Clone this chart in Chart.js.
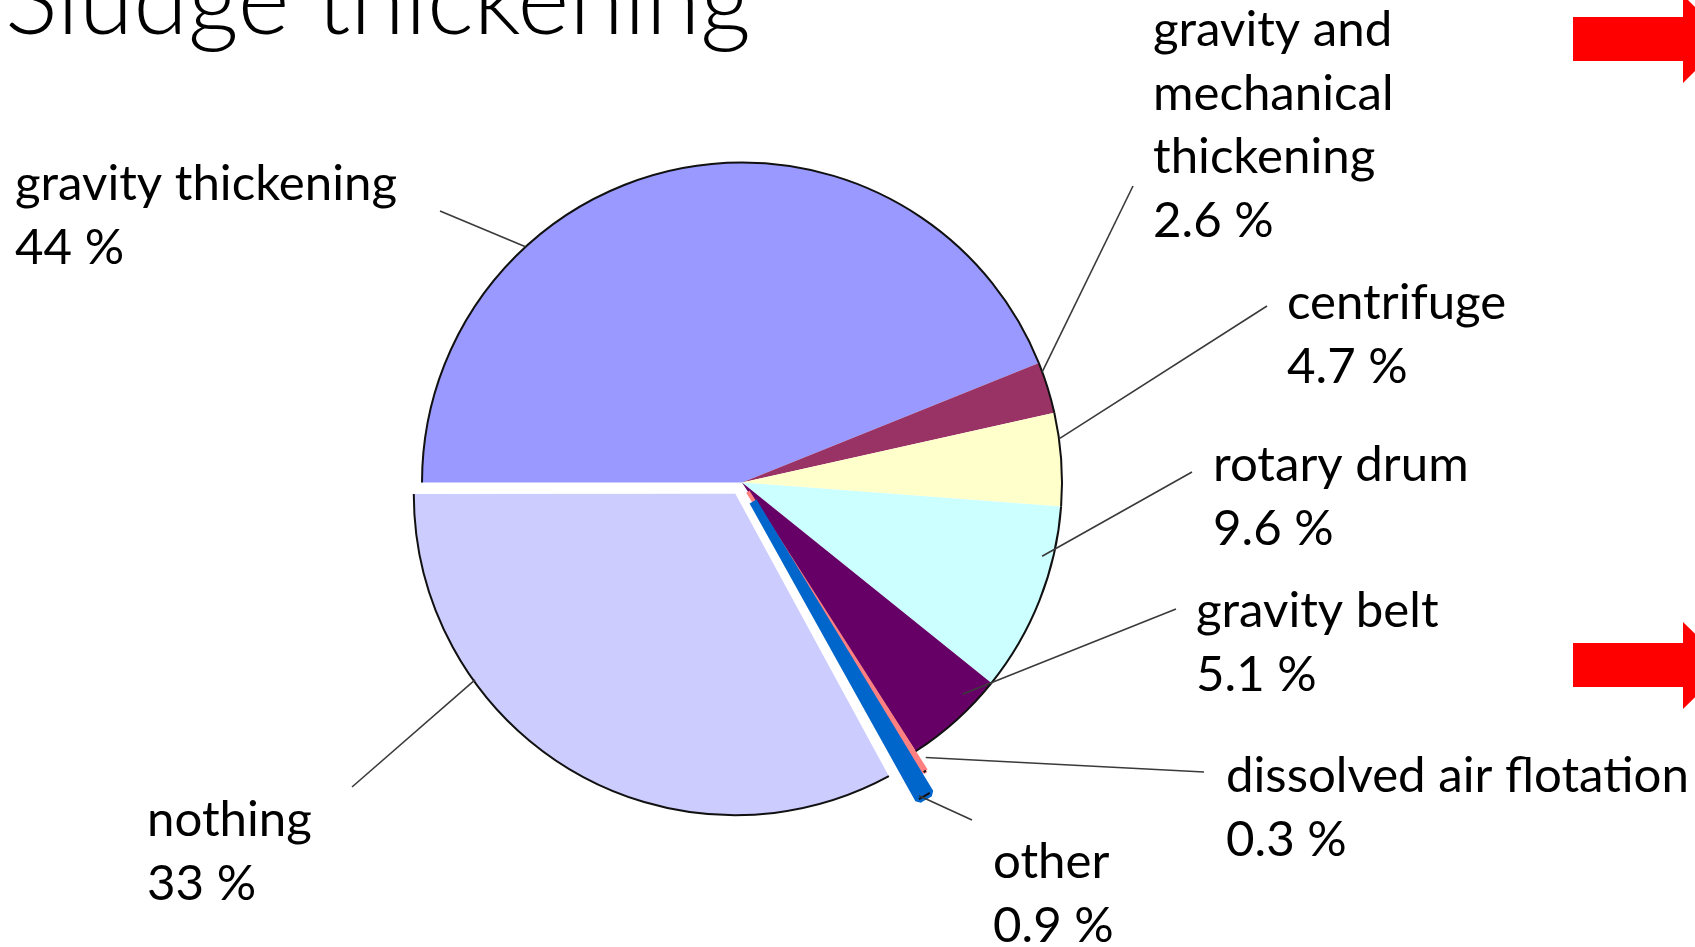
<!DOCTYPE html>
<html><head><meta charset="utf-8">
<script src="https://cdn.jsdelivr.net/npm/chart.js@4"></script>
<style>
html,body{margin:0;padding:0;background:#fff;overflow:hidden}
#wrap{position:relative;width:1695px;height:947px;background:#fff}
#c{position:absolute;left:0;top:0}
#arrows{position:absolute;left:0;top:0;pointer-events:none}
</style></head><body>
<div id="wrap">
<canvas id="c" width="1695" height="947"></canvas>
<svg id="arrows" width="1695" height="947" xmlns="http://www.w3.org/2000/svg">
  <polygon points="1573,17 1683,17 1683,-5 1727,39 1683,83 1683,61 1573,61" fill="#ff0000"/>
  <polygon points="1573,643 1683,643 1683,622 1727,665.5 1683,709 1683,687 1573,687" fill="#ff0000"/>
</svg>
</div>
<script>
// ---- data ----
const chartTitle = 'Sludge thickening';
const categories = ['gravity thickening', 'gravity and mechanical thickening', 'centrifuge', 'rotary drum', 'gravity belt', 'dissolved air flotation', 'other', 'nothing'];
const shares = [44, 2.6, 4.7, 9.6, 5.1, 0.3, 0.9, 33];
const shareLabels = ['44 %', '2.6 %', '4.7 %', '9.6 %', '5.1 %', '0.3 %', '0.9 %', '33 %'];
const labelLines = [['gravity thickening'], ['gravity and', 'mechanical', 'thickening'], ['centrifuge'], ['rotary drum'], ['gravity belt'], ['dissolved air flotation'], ['other'], ['nothing']];

// ---- styles / layout ----
const sliceColors = ['#9999ff', '#993366', '#ffffcc', '#ccffff', '#660066', '#ff8080', '#0066cc', '#ccccff'];
const sliceOffsets = [0, 0, 0, 0, 0, 44, 88, 52];
const sliceBorderWidths = [0, 0, 0, 0, 0, 4, 8, 0];
const FONT_FAMILY = 'Lato, "Open Sans", "Noto Sans", sans-serif';
const LINE_H = 63.5;
// text x, first baseline y, leader far end x/y, anchor position inside slice (fraction of angle), radial delta
const labelLayout = [
  {x: 15,   y: 200, fx: 440,  fy: 211, frac: 0.30, d: 0},
  {x: 1153, y: 46,  fx: 1133, fy: 186, frac: 0.18, d: 0},
  {x: 1287, y: 319, fx: 1267, fy: 306, frac: 0.28, d: 0},
  {x: 1213, y: 481, fx: 1192, fy: 472, frac: 0.275, d: -11},
  {x: 1196, y: 627, fx: 1176, fy: 609, frac: 0.27, d: -14},
  {x: 1226, y: 792, fx: 1204, fy: 772, frac: -0.85, d: -11},
  {x: 993,  y: 878, fx: 972,  fy: 820, frac: 0.73, d: -3},
  {x: 147,  y: 836, fx: 352,  fy: 787, frac: 0.70, d: -1.5}
];

function fitSize(ctx, text, weight, target) {
  ctx.font = weight + ' 100px ' + FONT_FAMILY;
  return 100 * target / ctx.measureText(text).width;
}

function arcGeom(arc) {
  const p = arc.getProps(['x', 'y', 'startAngle', 'endAngle', 'outerRadius', 'circumference'], true);
  const o = (arc.options.offset || 0) / 4;
  const half = (p.startAngle + p.endAngle) / 2;
  const fix = 1 - Math.sin(Math.min(Math.PI, p.circumference || 0));
  const ro = o * fix;
  const cx = p.x + Math.cos(half) * o, cy = p.y + Math.sin(half) * o;
  const R = p.outerRadius + ro;
  const beta = Math.max(0.001, p.circumference * R - ro / Math.PI) / R;
  const ao = (p.circumference - beta) / 2;
  return {cx, cy, R, s: p.startAngle, e: p.endAngle, s2: p.startAngle + ao, e2: p.endAngle - ao};
}

const decorPlugin = {
  id: 'decor',
  afterDatasetsDraw(chart) {
    const ctx = chart.ctx;
    const meta = chart.getDatasetMeta(0);
    ctx.save();
    // outer outline of each slice
    ctx.strokeStyle = '#111';
    ctx.lineWidth = 2;
    meta.data.forEach(arc => {
      const g = arcGeom(arc);
      ctx.beginPath();
      ctx.arc(g.cx, g.cy, g.R, g.s2, g.e2);
      ctx.stroke();
    });
    // leader lines
    ctx.strokeStyle = '#3a3a3a';
    ctx.lineWidth = 1.6;
    meta.data.forEach((arc, i) => {
      const g = arcGeom(arc);
      const L = labelLayout[i];
      const a = g.s + L.frac * (g.e - g.s);
      const ax = g.cx + Math.cos(a) * (g.R + L.d);
      const ay = g.cy + Math.sin(a) * (g.R + L.d);
      ctx.beginPath();
      ctx.moveTo(L.fx, L.fy);
      ctx.lineTo(ax, ay);
      ctx.stroke();
    });
    // labels
    const labelSize = fitSize(ctx, 'gravity thickening', 400, 382);
    ctx.fillStyle = '#000';
    ctx.textBaseline = 'alphabetic';
    ctx.textAlign = 'left';
    ctx.font = '400 ' + labelSize.toFixed(1) + 'px ' + FONT_FAMILY;
    labelLines.forEach((lines, i) => {
      const L = labelLayout[i];
      const all = lines.concat([shareLabels[i]]);
      all.forEach((t, k) => ctx.fillText(t, L.x, L.y + k * LINE_H));
    });
    // title (cut off at top edge)
    const titleSize = fitSize(ctx, chartTitle, 300, 746);
    ctx.font = '300 ' + titleSize.toFixed(1) + 'px ' + FONT_FAMILY;
    ctx.fillText(chartTitle, 5, 34);
    ctx.restore();
  }
};

new Chart(document.getElementById('c'), {
  type: 'pie',
  data: {
    labels: categories,
    datasets: [{
      data: shares,
      backgroundColor: sliceColors,
      borderColor: sliceColors,
      borderWidth: sliceBorderWidths,
      borderAlign: 'center',
      offset: sliceOffsets,
      radius: 320
    }]
  },
  options: {
    responsive: false,
    animation: false,
    devicePixelRatio: 1,
    rotation: 270,
    layout: {padding: {left: 0, right: 211, top: 18, bottom: 0}},
    plugins: {legend: {display: false}, tooltip: {enabled: false}, title: {display: false}}
  },
  plugins: [decorPlugin]
});
</script>
</body></html>
